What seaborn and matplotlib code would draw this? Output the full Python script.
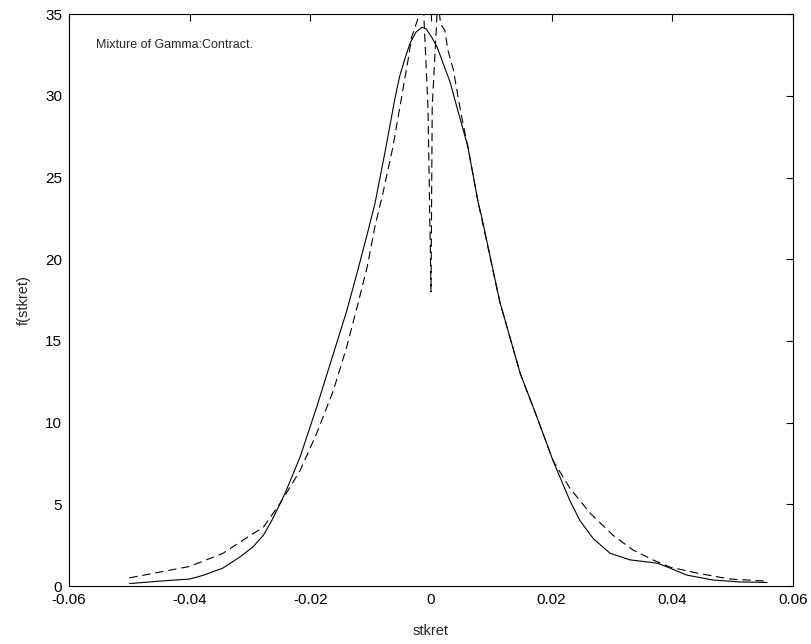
import matplotlib
matplotlib.use("Agg")
import matplotlib.pyplot as plt
import seaborn as sns
import pandas as pd

# Solid curve (estimated density)
solid_x = [-0.050, -0.045, -0.040, -0.0378, -0.0345, -0.0317, -0.0295, -0.0278, -0.0264,
           -0.0242, -0.0217, -0.0190, -0.0162, -0.0140, -0.0123, -0.0106, -0.0093, -0.0075,
           -0.0060, -0.0052, -0.0043, -0.0035, -0.0025, -0.0015, -0.0008, 0.0001, 0.0010,
           0.0018, 0.0032, 0.0043, 0.0061,
           0.0078, 0.0084, 0.0114, 0.0148, 0.0176, 0.0202, 0.0230, 0.0247, 0.0269, 0.0297,
           0.0330, 0.0375, 0.0396, 0.0424, 0.0467, 0.0512, 0.0557]
solid_y = [0.15, 0.30, 0.43, 0.65, 1.10, 1.77, 2.40, 3.10, 4.00,
           5.67, 7.90, 10.9, 14.2, 16.8, 19.1, 21.5, 23.4, 26.8,
           29.8, 31.2, 32.3, 33.2, 33.9, 34.2, 34.1, 33.6, 33.0,
           32.2, 30.8, 29.3, 26.9,
           23.5, 22.6, 17.4, 13.0, 10.3, 7.7, 5.24, 4.0, 2.9, 2.0,
           1.6, 1.4, 1.1, 0.67, 0.37, 0.25, 0.22]

# Dashed curve (mixture of gamma fit)
dash_x = [-0.050, -0.045, -0.040, -0.0345, -0.031, -0.0278, -0.025, -0.0217, -0.019,
          -0.0162, -0.014, -0.0123, -0.0106, -0.0093, -0.0080, -0.0063, -0.0046, -0.0038,
          -0.0032, -0.0020, -0.0016, -0.0012, -0.0005, 0.0, 0.0002, 0.0010, 0.0012,
          0.0016, 0.0023, 0.0028, 0.0037, 0.0045, 0.0053, 0.0061, 0.0078, 0.0114,
          0.0148, 0.0176, 0.0202, 0.0230, 0.0264, 0.0302, 0.0335, 0.0368, 0.0396,
          0.0440, 0.0495, 0.0557]
dash_y = [0.50, 0.85, 1.20, 2.00, 2.85, 3.60, 5.06, 7.07, 9.30,
          11.95, 14.6, 17.0, 19.5, 22.0, 24.0, 26.9, 30.5, 32.2,
          33.6, 34.9, 35.6, 35.0, 29.3, 18.0, 29.3, 35.0, 35.6,
          34.4, 34.0, 32.8, 31.6, 29.9, 28.3, 26.9, 23.5, 17.4,
          13.0, 10.3, 7.7, 6.0, 4.45, 3.1, 2.2, 1.6, 1.16,
          0.8, 0.43, 0.3]

x_ticks = [-0.06, -0.04, -0.02, 0.0, 0.02, 0.04, 0.06]
x_tick_labels = ["-0.06", "-0.04", "-0.02", "0", "0.02", "0.04", "0.06"]
y_ticks = [0, 5, 10, 15, 20, 25, 30, 35]

sns.set_style("white")
plt.rcParams["font.family"] = ["Liberation Sans", "DejaVu Sans"]
plt.rcParams["lines.scale_dashes"] = False

fig = plt.figure(figsize=(8.12, 6.44), dpi=100)
ax = fig.add_axes([0.085, 0.090, 0.8916, 0.888])

df_s = pd.DataFrame({"x": solid_x, "y": solid_y})
df_d = pd.DataFrame({"x": dash_x, "y": dash_y})
sns.lineplot(data=df_s, x="x", y="y", ax=ax, color="black", linewidth=0.8,
             estimator=None, sort=False)
sns.lineplot(data=df_d, x="x", y="y", ax=ax, color="black", linewidth=0.8,
             estimator=None, sort=False, linestyle=(0, (6, 3.5)))

ax.set_xlim(-0.06, 0.06)
ax.set_ylim(0, 35)
ax.set_xticks(x_ticks)
ax.set_xticklabels(x_tick_labels)
ax.set_yticks(y_ticks)
ax.set_yticklabels([str(v) for v in y_ticks])
ax.tick_params(direction="in", length=5, width=0.8, top=True, right=True,
               labelsize=11, colors="black", pad=5)
for s in ax.spines.values():
    s.set_visible(True)
    s.set_color("black")
    s.set_linewidth(0.8)

ax.set_xlabel("stkret", fontsize=10.5, labelpad=12)
ax.set_ylabel("f(stkret)", fontsize=10.5, labelpad=10)
ax.text(-0.0555, 33.1, "Mixture of Gamma:Contract.", fontsize=9, ha="left", va="center")

fig.savefig("out.png", dpi=100)
